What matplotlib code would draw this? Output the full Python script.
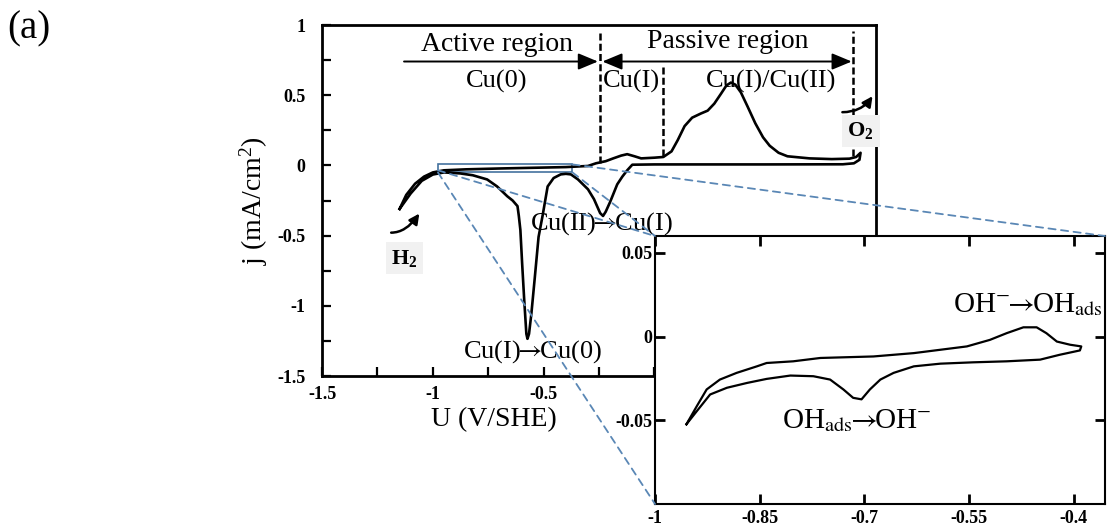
import matplotlib
matplotlib.use('Agg')
import matplotlib.pyplot as plt
from matplotlib.patches import Rectangle, ConnectionPatch
from matplotlib.ticker import MultipleLocator, FuncFormatter, FixedLocator

plt.rcParams['font.family'] = ['Liberation Serif', 'DejaVu Serif']
plt.rcParams['mathtext.fontset'] = 'custom'
plt.rcParams['mathtext.rm'] = 'Liberation Serif'
plt.rcParams['mathtext.it'] = 'Liberation Serif:italic'
plt.rcParams['mathtext.bf'] = 'Liberation Serif:bold'
plt.rcParams['axes.unicode_minus'] = False

# voltammogramme complet (aller puis retour), U en V/SHE, j en mA/cm2
u_cv = [-1.15, -1.12, -1.08, -1.04, -1.0, -0.95, -0.85, -0.7, -0.55, -0.4, -0.3,
        -0.264, -0.22, -0.186, -0.15, -0.123, -0.09, -0.06, 0.0, 0.04, 0.077,
        0.105, 0.136, 0.17, 0.21, 0.24, 0.27, 0.30, 0.325, 0.345, 0.365, 0.39,
        0.42, 0.455, 0.49, 0.52, 0.56, 0.6, 0.7, 0.8, 0.88, 0.91, 0.93,
        0.925, 0.9, 0.85, 0.5, 0.0, -0.1, -0.123, -0.145, -0.168, -0.2, -0.22,
        -0.232, -0.245, -0.273, -0.3, -0.345, -0.377, -0.4, -0.423, -0.455,
        -0.482, -0.505, -0.523, -0.54, -0.555, -0.566, -0.573, -0.578, -0.588,
        -0.597, -0.605, -0.612, -0.618, -0.64, -0.664, -0.71, -0.755, -0.82,
        -0.877, -0.95, -1.0, -1.05, -1.1, -1.15]
j_cv = [-0.31, -0.21, -0.13, -0.08, -0.05, -0.035, -0.028, -0.022, -0.017, -0.012, -0.004,
        0.015, 0.03, 0.05, 0.07, 0.08, 0.065, 0.05, 0.055, 0.06, 0.1,
        0.18, 0.28, 0.34, 0.37, 0.39, 0.44, 0.51, 0.57, 0.59, 0.575, 0.52,
        0.42, 0.3, 0.2, 0.14, 0.09, 0.065, 0.05, 0.045, 0.048, 0.06, 0.09,
        0.04, 0.015, 0.008, 0.007, 0.007, 0.005, -0.035, -0.08, -0.135, -0.26, -0.33,
        -0.36, -0.34, -0.24, -0.17, -0.1, -0.064, -0.06, -0.064, -0.09,
        -0.15, -0.36, -0.51, -0.8, -1.05, -1.2, -1.235, -1.2, -0.95,
        -0.7, -0.46, -0.36, -0.29, -0.25, -0.22, -0.15, -0.10, -0.07,
        -0.057, -0.05, -0.065, -0.11, -0.2, -0.31]

# zoom entre -1 et -0.4 V
u_zoom = [-0.955, -0.940, -0.926, -0.907, -0.883, -0.854, -0.840, -0.802, -0.763,
          -0.687, -0.629, -0.591, -0.553, -0.520, -0.496, -0.472, -0.453, -0.439,
          -0.424, -0.405, -0.389, -0.391, -0.420, -0.448, -0.496, -0.544, -0.591,
          -0.629, -0.658, -0.677, -0.692, -0.704, -0.716, -0.730, -0.749, -0.773,
          -0.806, -0.840, -0.868, -0.897, -0.921, -0.940, -0.955]
j_zoom = [-0.0524, -0.0415, -0.0316, -0.0257, -0.0217, -0.0178, -0.0158, -0.0148, -0.0128,
          -0.0119, -0.0099, -0.0079, -0.0059, -0.0020, 0.0020, 0.0055, 0.0055, 0.0020,
          -0.0030, -0.0049, -0.0059, -0.0083, -0.0109, -0.0138, -0.0148, -0.0154, -0.0162,
          -0.0178, -0.0217, -0.0257, -0.0316, -0.0375, -0.0366, -0.0316, -0.0257, -0.0237,
          -0.0233, -0.0253, -0.0277, -0.0306, -0.0346, -0.0445, -0.0524]

# limites des domaines (traits verticaux)
bornes_u = [-0.245, 0.04, 0.895]
bornes_j = [(0.02, 0.96), (0.065, 0.71), (0.065, 0.96)]

fig = plt.figure(figsize=(11.07, 5.31), dpi=100)
ax = fig.add_axes([0.2909, 0.2919, 0.5005, 0.661])

ax.plot(u_cv, j_cv, color='black', lw=1.9, solid_joinstyle='round')
ax.set_xlim(-1.5, 1.0)
ax.set_ylim(-1.5, 1.0)

for u, (j0, j1) in zip(bornes_u, bornes_j):
    ax.plot([u, u], [j0, j1], color='black', lw=1.8, ls='--', dashes=(2.8, 1.3))

ax.xaxis.set_major_locator(MultipleLocator(0.5))
ax.xaxis.set_minor_locator(MultipleLocator(0.25))
ax.yaxis.set_major_locator(MultipleLocator(0.5))
ax.yaxis.set_minor_locator(MultipleLocator(0.25))
# les etiquettes sous l'encart ne sont pas ecrites
ax.xaxis.set_major_formatter(FuncFormatter(lambda v, p: '%g' % v if v < -0.25 else ''))
ax.yaxis.set_major_formatter(FuncFormatter(lambda v, p: '%g' % v))
ax.tick_params(which='both', direction='in', length=6.5, width=1.6, labelsize=13)
ax.tick_params(axis='y', pad=12)
ax.tick_params(axis='x', pad=7)
plt.setp(ax.get_xticklabels() + ax.get_yticklabels(), fontweight='bold')
for s in ax.spines.values():
    s.set_linewidth(2)

ax.set_xlabel('U (V/SHE)', fontsize=20)
ax.xaxis.set_label_coords(0.31, -0.088)
ax.set_ylabel('j (mA/cm$^2$)', fontsize=20)
ax.yaxis.set_label_coords(-0.094, 0.5)

# domaines actif / passif
fleche = dict(arrowstyle='-|>,head_length=0.6,head_width=0.25', lw=1.4,
              color='black', mutation_scale=20, shrinkA=0, shrinkB=0)
ax.annotate('', xy=(-0.255, 0.74), xytext=(-1.13, 0.74), arrowprops=fleche)
fleche2 = dict(fleche, arrowstyle='<|-|>,head_length=0.6,head_width=0.25')
ax.annotate('', xy=(0.89, 0.74), xytext=(-0.235, 0.74), arrowprops=fleche2)
ax.text(-0.71, 0.815, 'Active region', fontsize=20, ha='center', va='baseline')
ax.text(0.332, 0.835, 'Passive region', fontsize=20, ha='center', va='baseline')
ax.text(-0.71, 0.555, 'Cu(0)', fontsize=19, ha='center', va='baseline')
ax.text(-0.105, 0.555, 'Cu(I)', fontsize=19, ha='center', va='baseline')
ax.text(0.527, 0.555, 'Cu(I)/Cu(II)', fontsize=19, ha='center', va='baseline')
ax.text(-0.24, -0.457, r'Cu(II)$\!\!\rightarrow\!\!$Cu(I)', fontsize=19, ha='center',
        va='baseline', math_fontfamily='stix')
ax.text(-0.55, -1.37, r'Cu(I)$\!\!\rightarrow\!\!$Cu(0)', fontsize=19, ha='center',
        va='baseline', math_fontfamily='stix')

# degagements gazeux
gris = dict(boxstyle='square,pad=0.25', fc='#f1f1f1', ec='none')
ax.text(-1.188, -0.70, r'$\mathbf{H}_\mathbf{2}$', fontsize=16, ha='left',
        va='baseline', bbox=gris)
ax.text(0.871, 0.207, r'$\mathbf{O}_\mathbf{2}$', fontsize=16, ha='left',
        va='baseline', bbox=gris)
gaz = dict(arrowstyle='-|>,head_length=0.5,head_width=0.25', lw=1.8, color='black',
           mutation_scale=12, shrinkA=0, shrinkB=0,
           connectionstyle='angle3,angleA=0,angleB=55')
ax.annotate('', xy=(-1.061, -0.343), xytext=(-1.188, -0.479), arrowprops=gaz)
ax.annotate('', xy=(0.984, 0.493), xytext=(0.848, 0.379), arrowprops=gaz)

# zone agrandie
ax.add_patch(Rectangle((-0.977, -0.05), 0.607, 0.057, fill=False,
                       ec='#44729e', lw=1.2))

axins = fig.add_axes([0.5917, 0.0508, 0.4065, 0.5047])
axins.set_facecolor('white')
axins.plot(u_zoom, j_zoom, color='black', lw=1.6)
axins.set_xlim(-1.0, -0.355)
axins.set_ylim(-0.1, 0.06)
axins.xaxis.set_major_locator(FixedLocator([-1, -0.85, -0.7, -0.55, -0.4]))
axins.yaxis.set_major_locator(FixedLocator([-0.05, 0, 0.05]))
axins.xaxis.set_major_formatter(FuncFormatter(lambda v, p: '%g' % v))
axins.yaxis.set_major_formatter(FuncFormatter(lambda v, p: '%g' % v))
axins.tick_params(direction='in', length=7, width=2, labelsize=13,
                  top=True, right=True)
axins.tick_params(axis='y', pad=2)
axins.tick_params(axis='x', pad=4)
plt.setp(axins.get_xticklabels() + axins.get_yticklabels(), fontweight='bold')
for s in axins.spines.values():
    s.set_linewidth(1.5)

axins.text(-0.4655, 0.0143, r'OH$^{-}\!\!\rightarrow\!\!$OH$_{\mathrm{ads}}$', fontsize=21,
           ha='center', va='baseline', math_fontfamily='stix')
axins.text(-0.7105, -0.0547, r'OH$_{\mathrm{ads}}\!\!\rightarrow\!\!$OH$^{-}$', fontsize=21,
           ha='center', va='baseline', math_fontfamily='stix')

# traits de liaison vers l'encart
liens = [((-0.977, -0.035), (0, 1)), ((-0.977, -0.05), (0, 0)),
         ((-0.37, 0.007), (1, 1)), ((-0.37, -0.05), (0, 1))]
for pa, pb in liens:
    cp = ConnectionPatch(xyA=pa, coordsA=ax.transData, xyB=pb,
                         coordsB=axins.transAxes, color='#5a87b5', lw=1.3,
                         ls=(0, (4, 3)))
    fig.add_artist(cp)

fig.text(0.007, 0.981, '(a)', fontsize=28, va='top')

fig.savefig('out.png', dpi=100)
